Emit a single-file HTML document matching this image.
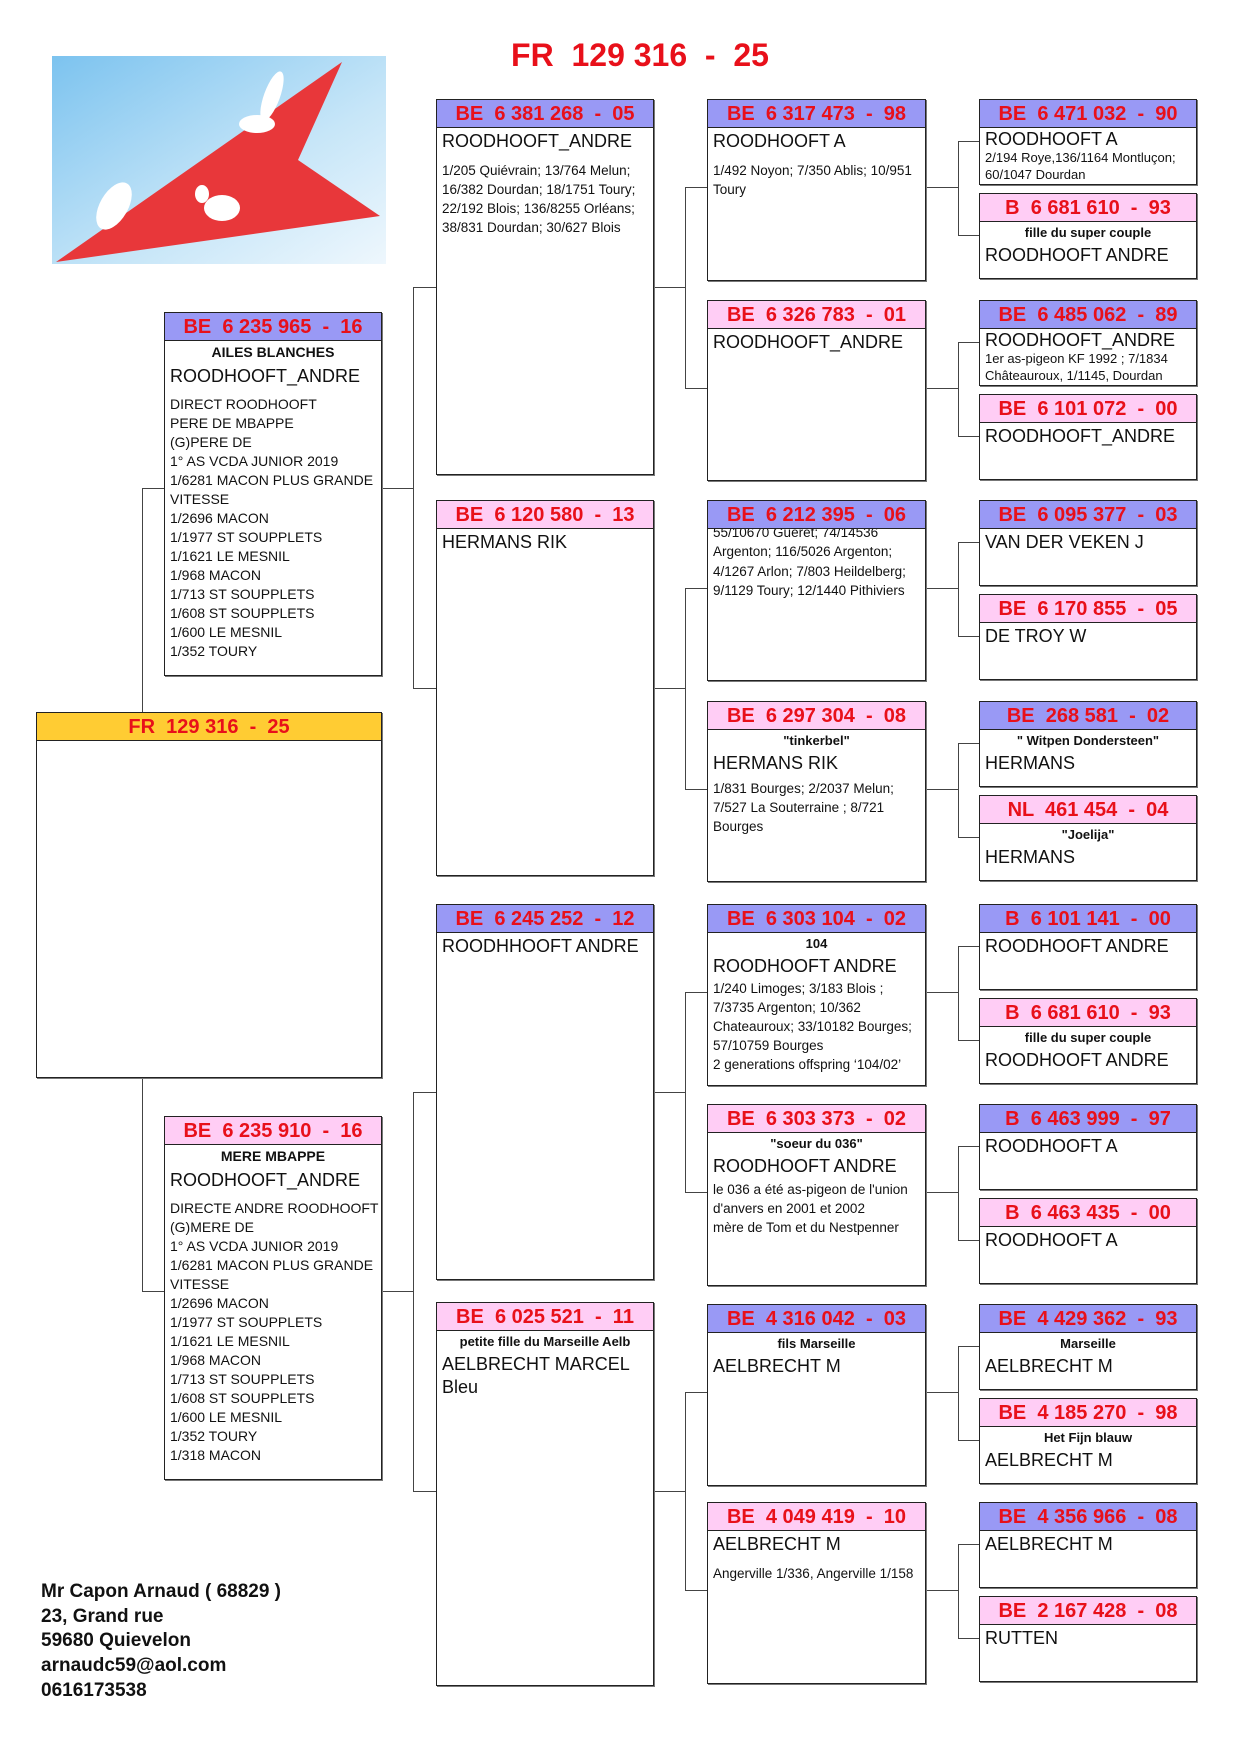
<!DOCTYPE html>
<html><head><meta charset="utf-8">
<style>
*{margin:0;padding:0;box-sizing:border-box}
body{width:1240px;height:1754px;position:relative;background:#fff;font-family:"Liberation Sans",Arial,sans-serif;color:#111;overflow:hidden}
.b{position:absolute;border:1px solid #222;box-shadow:1px 1px 0 #777;background:#fff;overflow:hidden}
.h{height:28px;line-height:28px;border-bottom:1px solid #222;text-align:center;color:#e8101a;font-weight:bold;font-size:20px;white-space:pre}
.bl{background:#9999f5}.pk{background:#ffcdf5}.or{background:#ffcc33}
.c{padding:0 5px}
.n{font-size:18px;line-height:23px;white-space:nowrap}
.d{font-size:13.5px;line-height:19px;white-space:nowrap}
.d4{font-size:13px;line-height:17px;white-space:nowrap}
.s{font-size:13px;font-weight:bold;text-align:center;line-height:22px}
.l{position:absolute;background:#444}
.hl{height:1px}.vl{width:1px}
</style></head><body>

<div style="position:absolute;left:0;top:37px;width:1280px;text-align:center;color:#e8101a;font-weight:bold;font-size:32px;white-space:pre">FR  129 316  -  25</div>

<svg style="position:absolute;left:52px;top:56px" width="334" height="208" viewBox="0 0 334 208">
<defs><linearGradient id="g" x1="0" y1="0" x2="1" y2="1"><stop offset="0" stop-color="#7cc3ef"/><stop offset="0.6" stop-color="#c7e6f8"/><stop offset="1" stop-color="#eef7fd"/></linearGradient></defs>
<rect width="334" height="208" fill="url(#g)"/>
<polygon points="4,206 290,6 246,104 328,160" fill="#e8373a"/>
<ellipse cx="220" cy="40" rx="8" ry="26" fill="#fff" transform="rotate(20 220 40)"/>
<ellipse cx="205" cy="68" rx="18" ry="9" fill="#fff"/>
<ellipse cx="62" cy="150" rx="14" ry="26" fill="#fff" transform="rotate(30 62 150)"/>
<ellipse cx="170" cy="152" rx="18" ry="13" fill="#fff"/>
<ellipse cx="150" cy="138" rx="7" ry="9" fill="#fff"/>
</svg>

<!-- connectors -->
<div class="l vl" style="left:142px;top:488px;height:804px"></div>
<div class="l hl" style="left:142px;top:488px;width:22px"></div>
<div class="l hl" style="left:142px;top:1291px;width:22px"></div>

<div class="l vl" style="left:413px;top:287px;height:402px"></div>
<div class="l hl" style="left:382px;top:488px;width:31px"></div>
<div class="l hl" style="left:413px;top:287px;width:23px"></div>
<div class="l hl" style="left:413px;top:688px;width:23px"></div>
<div class="l vl" style="left:413px;top:1092px;height:399px"></div>
<div class="l hl" style="left:382px;top:1291px;width:31px"></div>
<div class="l hl" style="left:413px;top:1092px;width:23px"></div>
<div class="l hl" style="left:413px;top:1491px;width:23px"></div>

<div class="l vl" style="left:685px;top:187px;height:201px"></div>
<div class="l hl" style="left:654px;top:287px;width:31px"></div>
<div class="l hl" style="left:685px;top:187px;width:22px"></div>
<div class="l hl" style="left:685px;top:388px;width:22px"></div>
<div class="l vl" style="left:685px;top:588px;height:201px"></div>
<div class="l hl" style="left:654px;top:688px;width:31px"></div>
<div class="l hl" style="left:685px;top:588px;width:22px"></div>
<div class="l hl" style="left:685px;top:789px;width:22px"></div>
<div class="l vl" style="left:685px;top:992px;height:200px"></div>
<div class="l hl" style="left:654px;top:1092px;width:31px"></div>
<div class="l hl" style="left:685px;top:992px;width:22px"></div>
<div class="l hl" style="left:685px;top:1192px;width:22px"></div>
<div class="l vl" style="left:685px;top:1392px;height:198px"></div>
<div class="l hl" style="left:654px;top:1491px;width:31px"></div>
<div class="l hl" style="left:685px;top:1392px;width:22px"></div>
<div class="l hl" style="left:685px;top:1590px;width:22px"></div>

<div class="l vl" style="left:958px;top:141px;height:94px"></div><div class="l hl" style="left:926px;top:187px;width:32px"></div><div class="l hl" style="left:958px;top:141px;width:21px"></div><div class="l hl" style="left:958px;top:235px;width:21px"></div>
<div class="l vl" style="left:958px;top:342px;height:94px"></div><div class="l hl" style="left:926px;top:388px;width:32px"></div><div class="l hl" style="left:958px;top:342px;width:21px"></div><div class="l hl" style="left:958px;top:436px;width:21px"></div>
<div class="l vl" style="left:958px;top:542px;height:94px"></div><div class="l hl" style="left:926px;top:588px;width:32px"></div><div class="l hl" style="left:958px;top:542px;width:21px"></div><div class="l hl" style="left:958px;top:636px;width:21px"></div>
<div class="l vl" style="left:958px;top:743px;height:94px"></div><div class="l hl" style="left:926px;top:789px;width:32px"></div><div class="l hl" style="left:958px;top:743px;width:21px"></div><div class="l hl" style="left:958px;top:837px;width:21px"></div>
<div class="l vl" style="left:958px;top:946px;height:94px"></div><div class="l hl" style="left:926px;top:992px;width:32px"></div><div class="l hl" style="left:958px;top:946px;width:21px"></div><div class="l hl" style="left:958px;top:1040px;width:21px"></div>
<div class="l vl" style="left:958px;top:1146px;height:94px"></div><div class="l hl" style="left:926px;top:1192px;width:32px"></div><div class="l hl" style="left:958px;top:1146px;width:21px"></div><div class="l hl" style="left:958px;top:1240px;width:21px"></div>
<div class="l vl" style="left:958px;top:1346px;height:94px"></div><div class="l hl" style="left:926px;top:1392px;width:32px"></div><div class="l hl" style="left:958px;top:1346px;width:21px"></div><div class="l hl" style="left:958px;top:1440px;width:21px"></div>
<div class="l vl" style="left:958px;top:1544px;height:94px"></div><div class="l hl" style="left:926px;top:1590px;width:32px"></div><div class="l hl" style="left:958px;top:1544px;width:21px"></div><div class="l hl" style="left:958px;top:1638px;width:21px"></div>

<!-- subject -->
<div class="b" style="left:36px;top:712px;width:346px;height:366px"><div class="h or">FR  129 316  -  25</div></div>

<!-- col1 -->
<div class="b" style="left:164px;top:312px;width:218px;height:364px"><div class="h bl">BE  6 235 965  -  16</div>
<div class="c"><div class="s" style="font-size:14px;line-height:22px">AILES BLANCHES</div><div class="n" style="line-height:26px">ROODHOOFT_ANDRE</div>
<div class="d" style="margin-top:6px;font-size:14px;line-height:19px">DIRECT ROODHOOFT<br>PERE DE MBAPPE<br>(G)PERE DE<br>1° AS VCDA JUNIOR 2019<br>1/6281 MACON PLUS GRANDE<br>VITESSE<br>1/2696 MACON<br>1/1977 ST SOUPPLETS<br>1/1621 LE MESNIL<br>1/968 MACON<br>1/713 ST SOUPPLETS<br>1/608 ST SOUPPLETS<br>1/600 LE MESNIL<br>1/352 TOURY</div></div></div>

<div class="b" style="left:164px;top:1116px;width:218px;height:364px"><div class="h pk">BE  6 235 910  -  16</div>
<div class="c"><div class="s" style="font-size:14px;line-height:22px">MERE MBAPPE</div><div class="n" style="line-height:26px">ROODHOOFT_ANDRE</div>
<div class="d" style="margin-top:6px;font-size:14px;line-height:19px">DIRECTE ANDRE ROODHOOFT<br>(G)MERE DE<br>1° AS VCDA JUNIOR 2019<br>1/6281 MACON PLUS GRANDE<br>VITESSE<br>1/2696 MACON<br>1/1977 ST SOUPPLETS<br>1/1621 LE MESNIL<br>1/968 MACON<br>1/713 ST SOUPPLETS<br>1/608 ST SOUPPLETS<br>1/600 LE MESNIL<br>1/352 TOURY<br>1/318 MACON</div></div></div>

<!-- col2 -->
<div class="b" style="left:436px;top:99px;width:218px;height:376px"><div class="h bl">BE  6 381 268  -  05</div>
<div class="c"><div class="n" style="margin-top:2px">ROODHOOFT_ANDRE</div><div class="d" style="margin-top:8px">1/205 Quiévrain; 13/764 Melun;<br>16/382 Dourdan; 18/1751 Toury;<br>22/192 Blois; 136/8255 Orléans;<br>38/831 Dourdan; 30/627 Blois</div></div></div>
<div class="b" style="left:436px;top:500px;width:218px;height:376px"><div class="h pk">BE  6 120 580  -  13</div>
<div class="c"><div class="n" style="margin-top:2px">HERMANS RIK</div></div></div>
<div class="b" style="left:436px;top:904px;width:218px;height:376px"><div class="h bl">BE  6 245 252  -  12</div>
<div class="c"><div class="n" style="margin-top:2px">ROODHHOOFT ANDRE</div></div></div>
<div class="b" style="left:436px;top:1302px;width:218px;height:384px"><div class="h pk">BE  6 025 521  -  11</div>
<div class="c"><div class="s">petite fille du Marseille Aelb</div><div class="n">AELBRECHT MARCEL<br>Bleu</div></div></div>

<!-- col3 -->
<div class="b" style="left:707px;top:99px;width:219px;height:182px"><div class="h bl">BE  6 317 473  -  98</div>
<div class="c"><div class="n" style="margin-top:2px">ROODHOOFT A</div><div class="d" style="margin-top:8px">1/492 Noyon; 7/350 Ablis; 10/951<br>Toury</div></div></div>
<div class="b" style="left:707px;top:300px;width:219px;height:181px"><div class="h pk">BE  6 326 783  -  01</div>
<div class="c"><div class="n" style="margin-top:2px">ROODHOOFT_ANDRE</div></div></div>
<div class="b" style="left:707px;top:500px;width:219px;height:181px"><div class="h bl" style="position:relative;z-index:1">BE  6 212 395  -  06</div>
<div class="c"><div class="d" style="margin-top:-6px;line-height:19.3px">55/10670 Guéret; 74/14536<br>Argenton; 116/5026 Argenton;<br>4/1267 Arlon; 7/803 Heildelberg;<br>9/1129 Toury; 12/1440 Pithiviers</div></div></div>
<div class="b" style="left:707px;top:701px;width:219px;height:181px"><div class="h pk">BE  6 297 304  -  08</div>
<div class="c"><div class="s">"tinkerbel"</div><div class="n">HERMANS RIK</div><div class="d" style="margin-top:4px">1/831 Bourges; 2/2037 Melun;<br>7/527 La Souterraine ; 8/721<br>Bourges</div></div></div>
<div class="b" style="left:707px;top:904px;width:219px;height:182px"><div class="h bl">BE  6 303 104  -  02</div>
<div class="c"><div class="s">104</div><div class="n">ROODHOOFT ANDRE</div><div class="d" style="margin-top:1px">1/240 Limoges; 3/183 Blois ;<br>7/3735 Argenton; 10/362<br>Chateauroux; 33/10182 Bourges;<br>57/10759 Bourges<br>2 generations offspring ‘104/02’</div></div></div>
<div class="b" style="left:707px;top:1104px;width:219px;height:182px"><div class="h pk">BE  6 303 373  -  02</div>
<div class="c"><div class="s">"soeur du 036"</div><div class="n">ROODHOOFT ANDRE</div><div class="d" style="margin-top:2px">le 036 a été as-pigeon de l'union<br>d'anvers en 2001 et 2002<br>mère de Tom et du Nestpenner</div></div></div>
<div class="b" style="left:707px;top:1304px;width:219px;height:182px"><div class="h bl">BE  4 316 042  -  03</div>
<div class="c"><div class="s">fils Marseille</div><div class="n">AELBRECHT M</div></div></div>
<div class="b" style="left:707px;top:1502px;width:219px;height:182px"><div class="h pk">BE  4 049 419  -  10</div>
<div class="c"><div class="n" style="margin-top:2px">AELBRECHT M</div><div class="d" style="margin-top:8px">Angerville 1/336, Angerville 1/158</div></div></div>

<!-- col4 -->
<div class="b" style="left:979px;top:99px;width:218px;height:86px"><div class="h bl">BE  6 471 032  -  90</div>
<div class="c"><div class="n" style="line-height:20px;margin-top:1px">ROODHOOFT A</div><div class="d4">2/194 Roye,136/1164 Montluçon;<br>60/1047 Dourdan</div></div></div>
<div class="b" style="left:979px;top:193px;width:218px;height:86px"><div class="h pk">B  6 681 610  -  93</div>
<div class="c"><div class="s">fille du super couple</div><div class="n">ROODHOOFT ANDRE</div></div></div>
<div class="b" style="left:979px;top:300px;width:218px;height:86px"><div class="h bl">BE  6 485 062  -  89</div>
<div class="c"><div class="n" style="line-height:20px;margin-top:1px">ROODHOOFT_ANDRE</div><div class="d4">1er as-pigeon KF 1992 ; 7/1834<br>Châteauroux, 1/1145, Dourdan</div></div></div>
<div class="b" style="left:979px;top:394px;width:218px;height:86px"><div class="h pk">BE  6 101 072  -  00</div>
<div class="c"><div class="n" style="margin-top:2px">ROODHOOFT_ANDRE</div></div></div>
<div class="b" style="left:979px;top:500px;width:218px;height:86px"><div class="h bl">BE  6 095 377  -  03</div>
<div class="c"><div class="n" style="margin-top:2px">VAN DER VEKEN J</div></div></div>
<div class="b" style="left:979px;top:594px;width:218px;height:86px"><div class="h pk">BE  6 170 855  -  05</div>
<div class="c"><div class="n" style="margin-top:2px">DE TROY W</div></div></div>
<div class="b" style="left:979px;top:701px;width:218px;height:86px"><div class="h bl">BE  268 581  -  02</div>
<div class="c"><div class="s">" Witpen Dondersteen"</div><div class="n">HERMANS</div></div></div>
<div class="b" style="left:979px;top:795px;width:218px;height:86px"><div class="h pk">NL  461 454  -  04</div>
<div class="c"><div class="s">"Joelija"</div><div class="n">HERMANS</div></div></div>
<div class="b" style="left:979px;top:904px;width:218px;height:86px"><div class="h bl">B  6 101 141  -  00</div>
<div class="c"><div class="n" style="margin-top:2px">ROODHOOFT ANDRE</div></div></div>
<div class="b" style="left:979px;top:998px;width:218px;height:86px"><div class="h pk">B  6 681 610  -  93</div>
<div class="c"><div class="s">fille du super couple</div><div class="n">ROODHOOFT ANDRE</div></div></div>
<div class="b" style="left:979px;top:1104px;width:218px;height:86px"><div class="h bl">B  6 463 999  -  97</div>
<div class="c"><div class="n" style="margin-top:2px">ROODHOOFT A</div></div></div>
<div class="b" style="left:979px;top:1198px;width:218px;height:86px"><div class="h pk">B  6 463 435  -  00</div>
<div class="c"><div class="n" style="margin-top:2px">ROODHOOFT A</div></div></div>
<div class="b" style="left:979px;top:1304px;width:218px;height:86px"><div class="h bl">BE  4 429 362  -  93</div>
<div class="c"><div class="s">Marseille</div><div class="n">AELBRECHT M</div></div></div>
<div class="b" style="left:979px;top:1398px;width:218px;height:86px"><div class="h pk">BE  4 185 270  -  98</div>
<div class="c"><div class="s">Het Fijn blauw</div><div class="n">AELBRECHT M</div></div></div>
<div class="b" style="left:979px;top:1502px;width:218px;height:86px"><div class="h bl">BE  4 356 966  -  08</div>
<div class="c"><div class="n" style="margin-top:2px">AELBRECHT M</div></div></div>
<div class="b" style="left:979px;top:1596px;width:218px;height:86px"><div class="h pk">BE  2 167 428  -  08</div>
<div class="c"><div class="n" style="margin-top:2px">RUTTEN</div></div></div>

<div style="position:absolute;left:41px;top:1580px;font-weight:bold;font-size:19px;line-height:24.7px">Mr Capon Arnaud ( 68829 )<br>23, Grand rue<br>59680 Quievelon<br>arnaudc59@aol.com<br>0616173538</div>
</body></html>
